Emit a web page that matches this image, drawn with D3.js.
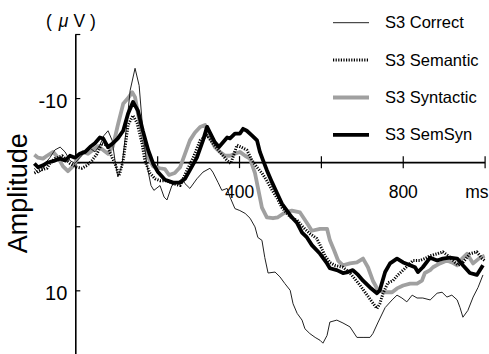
<!DOCTYPE html>
<html>
<head>
<meta charset="utf-8">
<script src="https://cdn.jsdelivr.net/npm/d3@7"></script>
<style>
  html, body { margin: 0; padding: 0; background: #fff; }
  svg { display: block; }
  text { font-family: "Liberation Sans", Arial, Helvetica, sans-serif; fill: #000; }
</style>
</head>
<body>
<svg id="chart" width="489" height="354"></svg>
<script>
// ERP waveforms, S3 electrode: time (ms) and amplitude (µV) per condition
const correctTime = [-100,-91,-81,-72,-62,-50,-37,-25,-13,-1,11,24,36,48,60,70,80,90,97,104,114,124,134,146,156,165,175,185,192,207,217,224,236,248,261,268,280,297,312,329,336,349,358,371,378,390,402,415,427,439,446,456,463,471,488,500,512,525,532,542,554,561,573,586,598,605,615,622,639,654,671,688,703,720,727,740,757,774,786,798,810,823,835,849,867,884,896,908,920,933,940,947,959,972,984,996];
const correctAmp = [-2.7,-2.2,-2.5,-3.3,-3.8,-4.6,-4.9,-4.4,-3.5,-3.2,-3.8,-4.4,-4.8,-4.4,-5.1,-6.1,-6.6,-5.6,-3.5,-1.8,-3.0,-6.6,-10.8,-13.1,-11.3,-6.6,-3.0,-0.9,-0.4,-0.9,0.3,0.6,-0.9,-1.2,-1.6,-1.1,-0.6,-1.6,-2.3,-2.7,-2.3,-1.2,-0.4,-0.6,0.3,1.5,1.7,2.0,2.5,3.4,4.5,4.8,6.6,8.2,8.1,8.6,9.3,10.0,11.4,12.4,13.1,14.0,14.5,14.9,15.2,15.5,14.7,13.3,13.1,13.4,13.8,14.9,14.9,14.9,14.5,13.3,11.8,11.0,10.5,10.8,11.2,10.5,10.8,10.8,11.0,10.3,10.2,10.7,10.5,11.0,11.8,12.8,12.1,10.7,9.7,8.4];

const semanticTime = [-100,-86,-69,-62,-50,-32,-20,-13,4,16,29,41,53,65,77,90,97,107,117,129,141,151,163,170,182,195,207,224,239,256,273,288,305,322,336,353,371,380,395,405,419,432,444,456,468,481,493,505,517,529,542,556,573,590,598,610,622,634,654,671,683,696,713,725,737,744,752,764,776,788,801,813,825,842,854,867,884,898,911,923,935,947,964,981,994,1000];
const semanticAmp = [-2.2,-2.5,-2.7,-3.2,-3.7,-4.0,-3.5,-3.2,-2.8,-2.7,-3.0,-3.5,-4.2,-5.3,-5.1,-3.8,-3.2,-1.9,-3.5,-7.2,-8.2,-7.4,-5.3,-3.5,-2.2,-1.6,-1.4,-1.4,-1.1,-0.9,-2.5,-3.8,-5.6,-6.1,-5.3,-4.4,-3.5,-3.2,-5.1,-4.9,-4.6,-3.5,-2.8,-2.2,-1.4,-0.4,0.4,1.4,2.0,2.5,2.7,3.4,4.1,4.6,5.3,6.4,7.1,7.4,7.6,8.2,8.8,9.5,10.5,11.2,11.9,11.4,10.3,9.2,9.0,8.4,7.9,7.4,6.9,6.9,6.7,6.4,6.2,6.0,6.4,6.9,7.4,7.1,6.2,6.0,6.7,6.9];

const syntacticTime = [-100,-91,-79,-69,-54,-42,-30,-18,-6,7,19,31,43,55,68,80,92,104,117,129,139,146,153,165,178,190,207,219,229,243,256,268,280,292,305,317,329,341,353,366,378,390,402,415,427,439,446,456,468,483,495,512,529,549,566,578,598,615,622,632,642,654,671,688,703,715,727,740,757,774,786,801,818,835,847,854,867,874,891,908,920,933,945,957,972,989,1000];
const syntacticAmp = [-4.1,-3.8,-3.7,-4.0,-4.4,-3.8,-2.9,-2.4,-2.9,-3.8,-4.4,-4.2,-4.6,-5.0,-4.6,-4.2,-5.0,-7.2,-9.4,-10.0,-10.6,-10.1,-8.4,-5.9,-3.8,-2.9,-2.7,-2.6,-2.0,-2.2,-2.8,-4.2,-5.6,-6.4,-7.0,-7.2,-5.9,-4.9,-4.4,-4.0,-4.0,-4.2,-4.4,-4.0,-3.7,-2.2,-0.7,1.4,2.4,2.5,2.4,1.9,1.7,1.9,3.0,3.8,3.6,3.6,4.8,5.8,6.9,7.4,7.2,7.1,6.7,7.6,9.0,10.0,10.2,10.2,9.8,9.5,9.3,9.3,9.0,8.2,7.9,7.6,7.2,6.9,7.1,7.4,6.7,6.2,7.2,6.6,6.4];

const semsynTime = [-100,-91,-79,-67,-50,-37,-25,-13,-1,11,24,36,48,60,68,80,92,104,117,129,141,153,165,178,190,202,219,239,256,268,280,297,312,322,329,341,351,361,371,378,390,402,410,419,432,444,451,459,468,481,493,505,517,529,542,554,566,578,598,615,622,639,654,666,678,691,703,720,737,744,757,769,786,801,818,830,837,849,867,884,898,915,933,947,964,981,996];
const semsynAmp = [-3.2,-2.8,-3.0,-3.3,-3.5,-3.7,-3.5,-4.0,-3.8,-4.2,-4.4,-4.9,-5.3,-5.9,-5.8,-4.9,-5.3,-5.8,-6.6,-8.4,-9.6,-8.7,-6.6,-4.6,-3.2,-2.3,-1.5,-1.2,-1.2,-1.6,-2.5,-3.8,-5.6,-7.0,-6.4,-5.4,-4.9,-5.4,-5.9,-5.8,-6.3,-6.3,-6.8,-6.6,-6.1,-5.6,-4.4,-3.5,-2.5,-1.2,-0.1,1.0,1.7,2.4,3.0,4.0,4.5,5.3,6.2,7.2,7.7,7.9,8.2,8.1,7.9,8.4,9.0,9.7,10.3,10.0,8.1,7.2,6.7,7.1,7.4,7.6,8.1,7.6,6.6,6.9,6.7,6.6,6.7,7.4,8.2,8.4,7.4];

const seriesNames = ["S3 Correct", "S3 Semantic", "S3 Syntactic", "S3 SemSyn"];

// Axis ticks and their labels
const xTickValues = [200, 400, 600, 800, 1000];
const xTickLabels = ["", "400", "", "800", "ms"];
const yTickValues = [-50 / 3, -10, -10 / 3, 10 / 3, 10];
const yTickLabels = ["", "-10", "", "", "10"];
const timeAxisAmp = -10 / 3;   // amplitude level where the time axis is drawn

const svg = d3.select("#chart");

const x = d3.scaleLinear().domain([0, 1000]).range([75.3, 484.6]);
const y = d3.scaleLinear().domain([-50 / 3, 50 / 3]).range([34, 354.4]);

// Y axis (negative up), ticks pointing right
const yAxisG = svg.append("g")
  .attr("transform", `translate(${x(0)},0)`)
  .call(d3.axisRight(y).tickValues(yTickValues).tickSizeInner(5).tickSizeOuter(0).tickFormat(""));
yAxisG.select(".domain").attr("stroke", "#000").attr("stroke-width", 1.6);
yAxisG.selectAll(".tick line").attr("stroke", "#000").attr("stroke-width", 1.2);

svg.append("g").selectAll("text")
  .data(yTickValues.map((v, i) => ({ v, label: yTickLabels[i] })).filter(d => d.label))
  .join("text")
  .attr("x", x(0) - 8)
  .attr("y", d => y(d.v) + 10)
  .attr("text-anchor", "end")
  .attr("font-size", 20)
  .text(d => d.label);

// Time axis with ticks crossing the line
const xAxisG = svg.append("g")
  .attr("transform", `translate(0,${y(timeAxisAmp)})`)
  .call(d3.axisBottom(x).tickValues(xTickValues).tickSizeInner(6).tickSizeOuter(0)
    .tickFormat((d, i) => xTickLabels[i]));
xAxisG.select(".domain").attr("stroke", "#000").attr("stroke-width", 1.6);
xAxisG.selectAll(".tick line").attr("stroke", "#000").attr("stroke-width", 1.2).attr("y1", -6).attr("y2", 6);
xAxisG.selectAll(".tick text")
  .attr("y", 23)
  .attr("font-size", 17.5)
  .attr("font-family", "'Liberation Sans', Arial, sans-serif")
  .attr("fill", "#000");
// the unit label at the axis end sits flush left of the page edge
xAxisG.selectAll(".tick text")
  .filter((d, i) => i === xTickValues.length - 1)
  .attr("text-anchor", "end")
  .attr("x", 3.5);

// Unit label and axis title
const unit = svg.append("text").attr("x", 46).attr("y", 27).attr("font-size", 17.5);
unit.append("tspan").text("(");
unit.append("tspan").attr("dx", 7).attr("font-style", "italic").text("μ");
unit.append("tspan").attr("dx", 5).text("V");
unit.append("tspan").attr("dx", 5).text(")");

svg.append("text")
  .attr("transform", `translate(27,${y(0) - 1}) rotate(-90)`)
  .attr("text-anchor", "middle")
  .attr("font-size", 27)
  .text("Amplitude");

// Waveforms
const series = [
  { name: seriesNames[2], t: syntacticTime, v: syntacticAmp, stroke: "#a0a0a0", width: 3.8, dash: null },
  { name: seriesNames[0], t: correctTime, v: correctAmp, stroke: "#222", width: 1, dash: null },
  { name: seriesNames[1], t: semanticTime, v: semanticAmp, stroke: "#000", width: 3, dash: "1.2,1.4" },
  { name: seriesNames[3], t: semsynTime, v: semsynAmp, stroke: "#000", width: 3.8, dash: null }
];

const line = d3.line().x(d => x(d[0])).y(d => y(d[1])).curve(d3.curveLinear);

svg.append("g").selectAll("path")
  .data(series)
  .join("path")
  .attr("d", s => line(s.t.map((t, i) => [t, s.v[i]])))
  .attr("fill", "none")
  .attr("stroke", s => s.stroke)
  .attr("stroke-width", s => s.width)
  .attr("stroke-dasharray", s => s.dash)
  .attr("stroke-linejoin", "round");

// Legend
const legendStyle = {
  "S3 Correct": series[1],
  "S3 Semantic": series[2],
  "S3 Syntactic": series[0],
  "S3 SemSyn": series[3]
};
const legend = svg.append("g").selectAll("g")
  .data(seriesNames)
  .join("g")
  .attr("transform", (d, i) => `translate(333,${22.7 + i * 37.4})`);
legend.append("line")
  .attr("x1", 0).attr("x2", 36).attr("y1", 0).attr("y2", 0)
  .attr("stroke", d => legendStyle[d].stroke)
  .attr("stroke-width", d => legendStyle[d].width)
  .attr("stroke-dasharray", d => legendStyle[d].dash);
legend.append("text")
  .attr("x", 52).attr("y", 5.5)
  .attr("font-size", 16.5)
  .text(d => d);
</script>
</body>
</html>
